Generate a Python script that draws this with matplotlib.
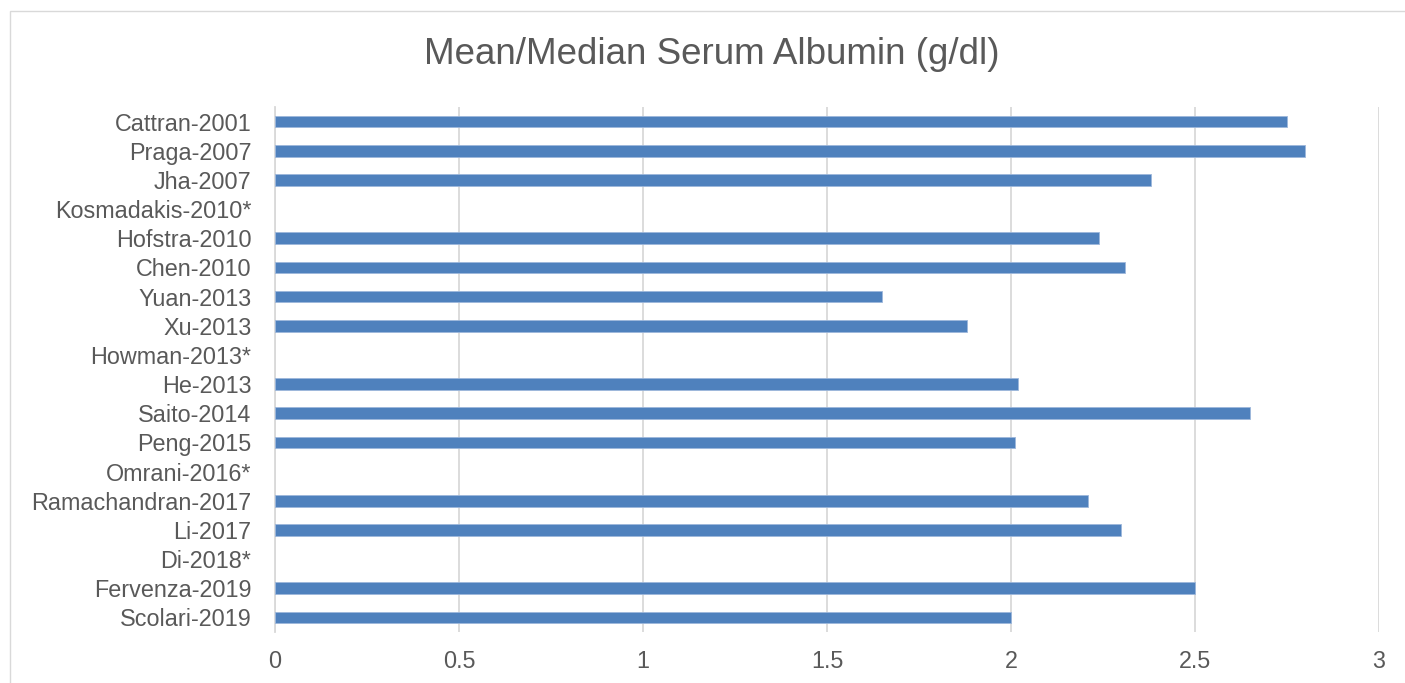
import matplotlib
matplotlib.use("Agg")
import matplotlib.pyplot as plt
from matplotlib.patches import Rectangle

plt.rcParams['font.family'] = ['Liberation Sans', 'DejaVu Sans']

studies = ["Cattran-2001", "Praga-2007", "Jha-2007", "Kosmadakis-2010*", "Hofstra-2010",
           "Chen-2010", "Yuan-2013", "Xu-2013", "Howman-2013*", "He-2013", "Saito-2014",
           "Peng-2015", "Omrani-2016*", "Ramachandran-2017", "Li-2017", "Di-2018*",
           "Fervenza-2019", "Scolari-2019"]
albumin = [2.75, 2.80, 2.38, None, 2.24, 2.31, 1.65, 1.88, None, 2.02, 2.65,
           2.01, None, 2.21, 2.30, None, 2.50, 2.00]
xticks = [0, 0.5, 1, 1.5, 2, 2.5, 3]
xticklabels = ["0", "0.5", "1", "1.5", "2", "2.5", "3"]

W, H = 1405, 683
fig = plt.figure(figsize=(W / 100, H / 100), dpi=100)
ax = fig.add_axes([275 / W, 1 - 632 / H, (1379 - 275) / W, (632 - 107) / H])

ypos = list(range(len(studies)))
vals = [v if v is not None else 0 for v in albumin]
bars = ax.barh(ypos, vals, height=0.4, color="#4F81BD", edgecolor="#9DB7DB", linewidth=0.6, zorder=3)
for b, v in zip(bars, albumin):
    if v is None:
        b.set_visible(False)

ax.set_ylim(len(studies) - 0.5, -0.5)
ax.set_xlim(0, 3)
ax.set_yticks(ypos)
ax.set_yticklabels(studies, fontsize=16.8, color="#595959")
ax.set_xticks(xticks)
ax.set_xticklabels(xticklabels, fontsize=16.8, color="#595959")
ax.tick_params(axis="both", length=0)
ax.tick_params(axis="y", pad=17)
ax.tick_params(axis="x", pad=13)
ax.grid(axis="x", color="#D9D9D9", linewidth=1.3, zorder=0)
for s in ["top", "right", "bottom"]:
    ax.spines[s].set_visible(False)
ax.spines["left"].set_color("#D9D9D9")
ax.spines["left"].set_linewidth(1.3)

fig.text((420 + 1003) / 2 / W, 1 - 55 / H, "Mean/Median Serum Albumin (g/dl)",
         ha="center", va="center", fontsize=26.5, color="#595959")

fig.patches.append(Rectangle((10 / W, -0.1), 1.2, 1 - 11 / H + 0.1, transform=fig.transFigure,
                             fill=False, edgecolor="#D9D9D9", linewidth=1))

fig.savefig("out.png", dpi=100)
